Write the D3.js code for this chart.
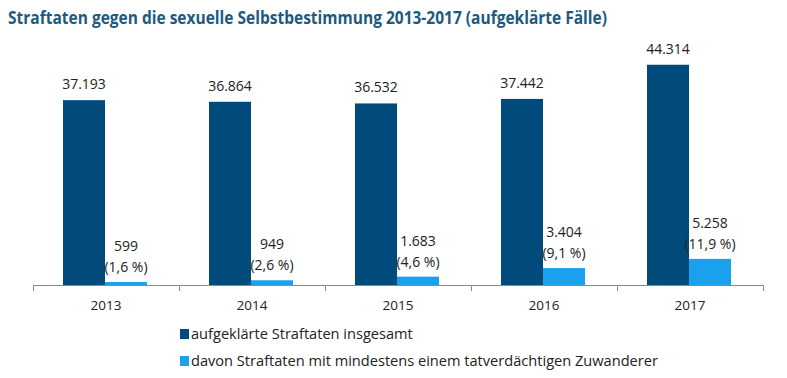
<!DOCTYPE html>
<html><head><meta charset="utf-8">
<script src="https://cdn.jsdelivr.net/npm/d3@7"></script>
<style>
body{margin:0;background:#fff;}
text{font-family:"Open Sans","Noto Sans",sans-serif;}
</style></head><body>
<svg id="c" width="787" height="378"></svg>
<script>
const years = ["2013","2014","2015","2016","2017"];
const totalCases = [37193, 36864, 36532, 37442, 44314];
const migrantCases = [599, 949, 1683, 3404, 5258];
const totalLabels = ["37.193","36.864","36.532","37.442","44.314"];
const migrantLabels = ["599","949","1.683","3.404","5.258"];
const shareLabels = ["(1,6 %)","(2,6 %)","(4,6 %)","(9,1 %)","(11,9 %)"];
const seriesNames = ["aufgeklärte Straftaten insgesamt","davon Straftaten mit mindestens einem tatverdächtigen Zuwanderer"];
const titleText = "Straftaten gegen die sexuelle Selbstbestimmung 2013-2017 (aufgeklärte Fälle)";

const colors = ["#004b7b", "#1aa1ee"];
const svg = d3.select("#c");
const left = 33, right = 763, base = 285;

svg.append("text").attr("x", 8).attr("y", 24)
  .attr("font-family", "'Liberation Sans Narrow','Roboto','Open Sans',sans-serif")
  .attr("font-weight", "bold").attr("font-size", 17.5).attr("fill", "#1d5a80")
  .attr("textLength", 599).attr("lengthAdjust", "spacingAndGlyphs")
  .text(titleText);

const x0 = d3.scaleBand().domain(years).range([left, right]).paddingInner(0).paddingOuter(0);
const x1 = d3.scaleBand().domain([0,1]).range([30, x0.bandwidth()-32]).padding(0);
const y = d3.scaleLinear().domain([0, 50000]).range([base, base - 248.5]);

const g = svg.append("g");
years.forEach((yr, i) => {
  const bx = x0(yr);
  const vals = [totalCases[i], migrantCases[i]];
  vals.forEach((v, j) => {
    g.append("rect").attr("x", bx + x1(j)).attr("width", x1.bandwidth())
      .attr("y", y(v)).attr("height", base - y(v)).attr("fill", colors[j]);
  });
  const cx0 = bx + x1(0) + x1.bandwidth()/2;
  const cx1 = bx + x1(1) + x1.bandwidth()/2;
  g.append("text").attr("x", cx0).attr("y", y(totalCases[i]) - 11)
    .attr("text-anchor", "middle").attr("font-size", 14).attr("fill", "#222").text(totalLabels[i]);
  g.append("text").attr("x", cx1).attr("y", y(migrantCases[i]) - 31)
    .attr("text-anchor", "middle").attr("font-size", 14).attr("fill", "#222").text(migrantLabels[i]);
  g.append("text").attr("x", cx1).attr("y", y(migrantCases[i]) - 10)
    .attr("text-anchor", "middle").attr("font-size", 14).attr("fill", "#222").text(shareLabels[i]);
});

// axis
const ax = svg.append("g");
ax.append("line").attr("x1", left).attr("x2", right).attr("y1", base+0.5).attr("y2", base+0.5)
  .attr("stroke", "#8a8a8a").attr("stroke-width", 1);
const tickXs = years.map(yr => x0(yr)).concat([right]);
tickXs.forEach(tx => ax.append("line").attr("x1", tx+0.5).attr("x2", tx+0.5)
  .attr("y1", base).attr("y2", base+6).attr("stroke", "#8a8a8a"));
years.forEach(yr => ax.append("text").attr("x", x0(yr) + x0.bandwidth()/2).attr("y", 310)
  .attr("text-anchor", "middle").attr("font-size", 13.5).attr("fill", "#222").text(yr));

// legend
const lg = svg.append("g");
seriesNames.forEach((n, i) => {
  const ly = 339 + i*27;
  lg.append("rect").attr("x", 180).attr("y", ly - 10).attr("width", 9).attr("height", 10).attr("fill", colors[i]);
  lg.append("text").attr("x", 191).attr("y", ly).attr("font-size", 14.6).attr("fill", "#222").text(n);
});
</script></body></html>
